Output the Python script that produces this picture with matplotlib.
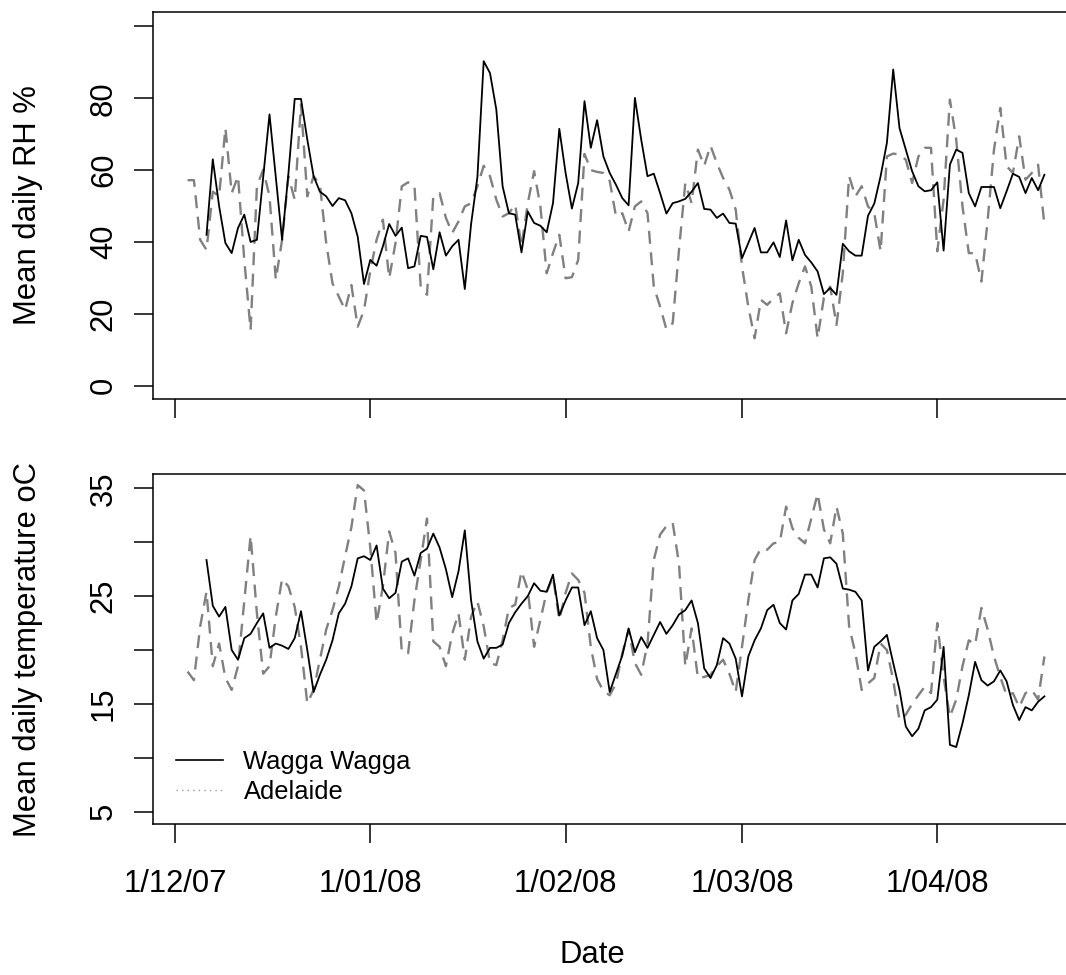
import numpy as np
import matplotlib
matplotlib.use('Agg')
import matplotlib.pyplot as plt
from matplotlib.lines import Line2D

plt.rcParams['font.family'] = ['Liberation Sans', 'DejaVu Sans']

# --- data: days counted from 1 Dec 2007 ---
wagga_start = 5
adel_start = 2

# mean daily RH %, Wagga Wagga
wagga_rh = [
    42, 63, 50, 39.7, 36.9, 43.9, 47.6, 40, 40.6, 58,
    75.5, 58, 40.6, 59, 79.8, 79.8, 68.5, 58.3, 54, 52.7,
    50, 52.2, 51.6, 48, 41.5, 28.3, 35, 33.4, 38.8, 45,
    41.7, 44, 32.7, 33.2, 41.7, 41.4, 32.4, 42.7, 36.2, 38.8,
    40.6, 26.9, 45, 58, 90.3, 87, 76.9, 55.5, 48, 47.6,
    37.1, 48.5, 45.3, 44.5, 42.7, 50.8, 71.5, 59.2, 49.3, 56.4,
    79.2, 66.2, 73.9, 63.8, 59.2, 55.9, 52.2, 50.2, 80.1, 68.5,
    58.3, 59, 53.6, 47.9, 50.8, 51.3, 52, 54, 56.4, 49.2,
    49, 46.7, 47.9, 45.3, 45.1, 35.5, 39.7, 43.9, 37.1, 37.1,
    39.9, 35.8, 46, 34.9, 40.6, 36.4, 34.3, 31.8, 25.5, 27.2,
    25.3, 39.5, 37.4, 36.2, 36.2, 47.3, 50.7, 58.3, 67.6, 88,
    71.7, 65.7, 59.7, 55.5, 54.1, 54.4, 56.6, 37.6, 61.5, 65.7,
    64.8, 53.6, 49.9, 55.3, 55.3, 55.3, 49.4, 54.1, 59, 58.1,
    53.6, 57.8, 54.4, 58.7,
]

# mean daily RH %, Adelaide
adel_rh = [
    57.2, 57.2, 40.6, 37.8, 54, 52.7, 71.7, 53.6, 58.3, 35,
    15.5, 55.5, 60.1, 52.7, 29.5, 40.6, 58.3, 51.8, 78.3, 52.7,
    58.3, 56, 39.7, 28.5, 24.8, 21.1, 28, 16.4, 21, 32,
    40.6, 46.2, 29.9, 39.7, 55.5, 56.6, 55.9, 27.6, 25.3, 52.7,
    53.6, 46.7, 42.5, 45.7, 49.9, 50.8, 55.5, 61.2, 58.3, 51.8,
    47.1, 48, 50.4, 38.8, 50.8, 59.7, 49.9, 31.3, 36.9, 42,
    29.9, 30.2, 35, 64.5, 60, 59.5, 59.2, 57, 47.1, 48,
    42.9, 49.9, 51.3, 48, 27.6, 22, 15.7, 17.4, 37.8, 56.4,
    50.8, 65.7, 61.2, 66.8, 62, 57.8, 54.6, 49, 33.2, 22,
    13.2, 23.9, 22.5, 24.3, 25.7, 14.6, 23, 28.5, 33.2, 27.6,
    13.2, 24.5, 27.6, 16.9, 31.3, 58.3, 52.7, 55.5, 49.9, 48,
    37.4, 63.8, 64.6, 64.3, 62.9, 56.4, 63.8, 66.2, 66.2, 37.4,
    51.8, 79.6, 68.5, 49.9, 36.9, 36.9, 29, 46.2, 65.7, 77.3,
    61.1, 59.2, 69.4, 57.3, 59.2, 61.5, 44.8,
]

# mean daily temperature, Wagga Wagga
wagga_temp = [
    28.35, 24.1, 23.1, 24, 20, 19.1, 21.1, 21.5, 22.5, 23.4,
    20.2, 20.6, 20.4, 20.1, 21.1, 23.6, 20, 16.1, 17.7, 19.1,
    20.9, 23.4, 24.3, 25.9, 28.5, 28.7, 28.35, 29.7, 25.7, 24.8,
    25.3, 28.2, 28.5, 26.9, 29, 29.4, 30.8, 29.5, 27.5, 24.9,
    27.3, 31.1, 24.6, 20.8, 19.2, 20.2, 20.2, 20.5, 22.5, 23.5,
    24.3, 25, 26.2, 25.5, 25.4, 27, 23.2, 24.6, 25.8, 25.8,
    22.3, 23.6, 21.1, 20, 16.1, 17.8, 19.5, 22, 19.8, 21.2,
    20.2, 21.4, 22.6, 21.5, 22.3, 23.3, 23.7, 24.6, 22.5, 18.3,
    17.4, 18.6, 21.1, 20.6, 19.2, 15.7, 19.4, 20.9, 22, 23.7,
    24.2, 22.5, 21.9, 24.6, 25.2, 27, 27, 25.8, 28.5, 28.6,
    28, 25.7, 25.6, 25.4, 24.6, 18.1, 20.3, 20.8, 21.4, 18.8,
    16.3, 12.9, 12, 12.7, 14.4, 14.7, 15.4, 20.3, 11.2, 11,
    13.2, 15.8, 18.9, 17.2, 16.7, 17.1, 18.1, 17.1, 14.9, 13.5,
    14.7, 14.4, 15.2, 15.7,
]

# mean daily temperature, Adelaide
adel_temp = [
    18, 17.2, 22.2, 25.4, 18.5, 20.6, 17.4, 16.3, 18.5, 24.6,
    30.6, 23.4, 17.8, 18.5, 23.1, 26.6, 25.9, 24, 20.3, 15.05,
    16.3, 19.1, 21.9, 23.7, 25.9, 28.7, 31.4, 35.3, 34.8, 29.5,
    22.5, 25.9, 31, 29, 19.8, 19.7, 24.6, 28.35, 32.2, 20.8,
    20.3, 18.5, 21.5, 23.4, 19.1, 23.1, 24.5, 22.2, 18.8, 18.6,
    20.9, 23.9, 24.2, 27.3, 25.6, 20.3, 22.8, 25.4, 26.8, 22.8,
    25.3, 27.1, 26.5, 25.3, 20.3, 17.3, 16.2, 15.8, 16.9, 19.7,
    21.9, 18.8, 17.7, 20.6, 28.35, 30.7, 31.5, 31.8, 28, 18.5,
    22, 17.4, 17.5, 17.7, 18.5, 19.1, 17.8, 16.1, 20.3, 24.6,
    28.35, 29.4, 29.3, 29.9, 30, 33.3, 31.3, 30.4, 29.9, 32.2,
    34.5, 31.2, 29.9, 33.3, 30.8, 22.2, 19.7, 16.3, 16.9, 17.4,
    20.6, 20, 17.2, 13.5, 14, 15, 15.8, 16.6, 16, 22.5,
    17.5, 13.8, 15.4, 18.5, 20.9, 20.5, 23.9, 21.9, 19.4, 17.5,
    15.8, 16, 14.7, 16, 16.3, 15.4, 19.4,
]

tick_days = [0, 31, 62, 90, 121]
tick_labels = ['1/12/07', '1/01/08', '1/02/08', '1/03/08', '1/04/08']

wagga_days = np.arange(wagga_start, wagga_start + len(wagga_rh))
adel_days = np.arange(adel_start, adel_start + len(adel_rh))

# --- figure ---
W, H = 1066, 975
fig = plt.figure(figsize=(W / 100, H / 100), dpi=100)

left, right = 153, 1100
ax1 = fig.add_axes([left / W, (H - 399) / H, (right - left) / W, (399 - 12) / H])
ax2 = fig.add_axes([left / W, (H - 824) / H, (right - left) / W, (824 - 474.3) / H])

grey = '#808080'
dash = (0, (5.5, 3.6))
fs = 22.3

for ax, w, a in [(ax1, wagga_rh, adel_rh), (ax2, wagga_temp, adel_temp)]:
    ax.plot(adel_days, a, color=grey, lw=1.7, linestyle=dash)
    ax.plot(wagga_days, w, color='black', lw=1.3)
    ax.set_xlim((left - 175) / 6.3, (right - 175) / 6.3)
    for s in ax.spines.values():
        s.set_linewidth(1.1)
    ax.tick_params(direction='out', length=13.5, width=1.1, labelsize=fs)
    ax.set_xticks(tick_days)

# top panel
ax1.set_ylim(-3.7, 104.0)
ax1.set_yticks([0, 20, 40, 60, 80, 100], ['0', '20', '40', '60', '80', ''])
ax1.set_xticklabels([])
ax1.tick_params(axis='y', pad=11)
ax1.set_ylabel('Mean daily RH %', fontsize=fs, va='center')
ax1.yaxis.set_label_coords((28 - left) / (right - left), 0.5)

# bottom panel
ax2.set_ylim(3.86, 36.3)
ax2.set_yticks([5, 10, 15, 20, 25, 30, 35], ['5', '', '15', '', '25', '', '35'])
ax2.set_xticklabels(tick_labels)
ax2.tick_params(axis='y', pad=11)
ax2.tick_params(axis='x', pad=18.7)
ax2.set_ylabel('Mean daily temperature oC', fontsize=fs, va='center')
ax2.yaxis.set_label_coords((28 - left) / (right - left), 0.5)
ax2.set_xlabel('Date', fontsize=fs, va='center')
ax2.xaxis.set_label_coords((592 - left) / (right - left), -(955 - 824) / (824 - 474.3))

for ax in (ax1, ax2):
    for lbl in ax.get_yticklabels():
        lbl.set_rotation(90)
        lbl.set_va('center')

handles = [Line2D([], [], color='black', lw=1.2),
           Line2D([], [], color='#999999', lw=1.0, linestyle=(0, (1, 3)))]
ax2.legend(handles, ['Wagga Wagga', 'Adelaide'], loc='upper left',
           bbox_to_anchor=((176 - left) / (right - left), (824 - 750) / (824 - 474.3)),
           frameon=False, fontsize=18.4, handlelength=1.82, handletextpad=0.82,
           borderaxespad=0, borderpad=0, labelspacing=0.25)

fig.savefig('out.png', dpi=100)
